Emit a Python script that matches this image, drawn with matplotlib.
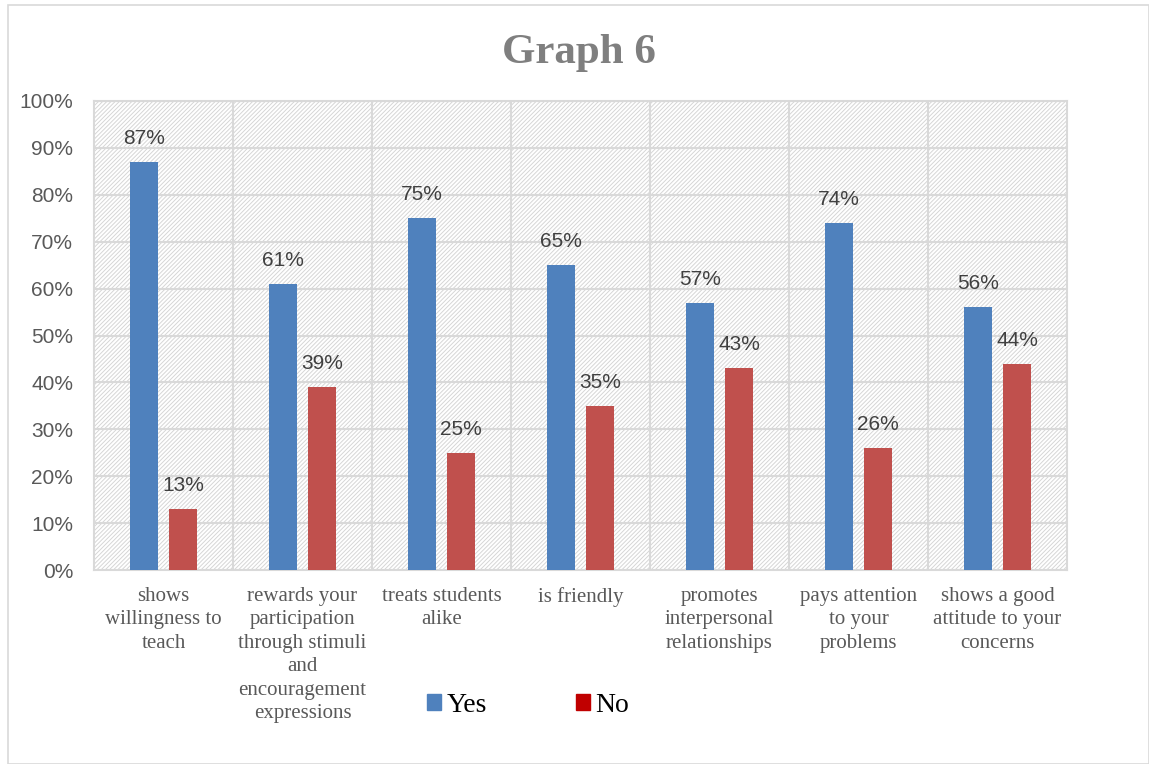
import numpy as np
import matplotlib.pyplot as plt
from matplotlib.patches import Rectangle, Patch

categories = [
    "shows\nwillingness to\nteach",
    "rewards your\nparticipation\nthrough stimuli\nand\nencouragement\nexpressions",
    "treats students\nalike",
    "is friendly",
    "promotes\ninterpersonal\nrelationships",
    "pays attention\nto your\nproblems",
    "shows a good\nattitude to your\nconcerns",
]
yes = [87, 61, 75, 65, 57, 74, 56]
no = [13, 39, 25, 35, 43, 26, 44]

blue = "#4F81BD"
red = "#C0504D"
grid = "#D9D9D9"

plt.rcParams['hatch.color'] = "#D6D6D6"
plt.rcParams['hatch.linewidth'] = 0.7

fig = plt.figure(figsize=(11.49, 7.64), dpi=100)
ax = fig.add_axes([94 / 1149, 1 - 570 / 764, (1067 - 94) / 1149, (570 - 101) / 764])

# chart border
fig.patches.append(Rectangle((8 / 1149, 0), 1 - 8 / 1149, 1 - 5 / 764,
                             transform=fig.transFigure, fill=False,
                             edgecolor=grid, lw=1.2))

# hatched plot area
ax.add_patch(Rectangle((0, 0), 1, 1, transform=ax.transAxes, facecolor="white",
                       hatch="////////", edgecolor="#D6D6D6", lw=0, zorder=0))

x = np.arange(len(categories))
w = 0.2
b1 = ax.bar(x - 0.14, yes, w, color=blue, zorder=3)
b2 = ax.bar(x + 0.14, no, w, color=red, zorder=3)

for bars, vals in ((b1, yes), (b2, no)):
    for r, v in zip(bars, vals):
        ax.annotate(f"{v}%", (r.get_x() + r.get_width() / 2, v),
                    xytext=(0, 17), textcoords="offset points",
                    ha="center", va="center", fontsize=15,
                    family="Liberation Sans", color="#404040", zorder=4)

ax.set_xlim(-0.5, len(categories) - 0.5)
ax.set_ylim(0, 100)
ax.set_yticks(np.arange(0, 101, 10))
ax.set_yticklabels([f"{t}%" for t in range(0, 101, 10)],
                   fontsize=15, family="Liberation Sans", color="#595959")
ax.set_xticks(x)
ax.set_xticklabels(categories, fontsize=15, family="Liberation Serif",
                   color="#595959", linespacing=1.32, va="top")
ax.tick_params(length=0, pad=12)
ax.tick_params(axis="y", pad=15)

for yy in range(10, 101, 10):
    ax.axhline(yy, color=grid, lw=1.5, zorder=1)
for xx in np.arange(0.5, len(categories) - 0.5, 1):
    ax.axvline(xx, color=grid, lw=1.5, zorder=1)
for s in ax.spines.values():
    s.set_color(grid)
    s.set_linewidth(1.5)

fig.text(579 / 1149, 1 - 53 / 764, "Graph 6", ha="center", va="center",
         fontsize=31, fontweight="bold", family="Liberation Serif",
         color="#7F7F7F")

fig.legend(handles=[Patch(color=blue, label="Yes"), Patch(color="#C00000", label="No")],
           loc="center", bbox_to_anchor=(528 / 1149, 1 - 705 / 764), ncol=2,
           frameon=False, prop={"family": "Liberation Serif", "size": 20},
           handlelength=0.5, handleheight=0.5, handletextpad=0.2,
           columnspacing=3.2)

fig.savefig("out.png", dpi=100)
